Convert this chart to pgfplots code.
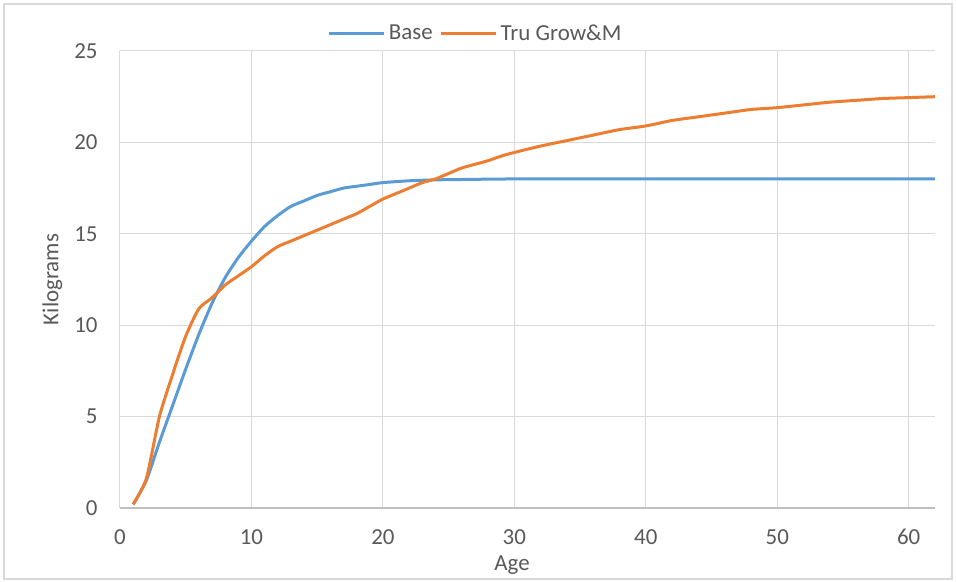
\documentclass[border=0pt]{standalone}
\usepackage{pgfplots}
\pgfplotsset{compat=1.18}
\usepackage{fontspec}
\setmainfont{Carlito}
\definecolor{xlblue}{HTML}{5B9BD5}
\definecolor{xlorange}{HTML}{ED7D31}
\definecolor{txt}{HTML}{595959}
\definecolor{gridc}{HTML}{D9D9D9}
\definecolor{axc}{HTML}{BFBFBF}
\begin{document}
\begin{tikzpicture}
\path[use as bounding box] (0bp,0bp) rectangle (956bp,582bp);
\draw[gridc, line width=1.2bp] (4bp,3bp) rectangle (952bp,578bp);
\begin{axis}[
  at={(120bp,74bp)}, anchor=south west,
  width=815bp, height=457bp, scale only axis,
  xmin=0, xmax=62, ymin=0, ymax=25,
  xtick={0,10,...,60}, ytick={0,5,...,25},
  grid=major, major grid style={gridc, line width=1bp},
  axis x line*=bottom, axis y line*=left,
  x axis line style={axc, line width=1.2bp, -},
  y axis line style={gridc, line width=1bp, -},
  major tick length=0pt, tick style={draw=none},
  /pgf/number format/assume math mode=true,
  tick label style={font=\fontsize{23}{27}\selectfont, text=txt},
  xticklabel style={yshift=-18bp},
  yticklabel style={xshift=-19bp},
  xlabel={Age}, ylabel={Kilograms},
  label style={font=\fontsize{23}{27}\selectfont, text=txt},
  xlabel style={at={(axis description cs:0.481,-0.125)}, anchor=center},
  ylabel style={at={(axis description cs:-0.083,0.50)}, anchor=center, rotate=0},
  legend columns=2,
  legend style={at={(axis description cs:0.437,1.039)}, anchor=center, draw=none, fill=none,
    font=\fontsize{23}{27}\selectfont, text=txt,
    /tikz/every odd column/.append style={column sep=0bp},
    /tikz/every even column/.append style={column sep=4bp},
    nodes={inner xsep=3bp}},
  legend image code/.code={\draw[#1] (0bp,0bp) -- (55bp,0bp);},
]
\addplot[xlblue, line width=3bp, smooth, tension=0.4] coordinates {
(1,0.2)(2,1.5)(3,3.6)(4,5.6)(5,7.6)(6,9.5)(7,11.2)(8,12.6)(9,13.7)(10,14.6)
(11,15.4)(12,16.0)(13,16.5)(14,16.8)(15,17.1)(16,17.3)(17,17.5)(18,17.6)(19,17.7)(20,17.8)
(22,17.9)(24,17.95)(26,17.97)(30,18.0)(40,18.0)(50,18.0)(62,18.0)};
\addlegendentry{Base}
\addplot[xlorange, line width=3bp, smooth, tension=0.4] coordinates {
(1,0.2)(2,1.6)(3,5.0)(4,7.3)(5,9.4)(6,10.9)(7,11.5)(8,12.2)(9,12.7)(10,13.2)
(11,13.8)(12,14.3)(13,14.6)(14,14.9)(15,15.2)(16,15.5)(17,15.8)(18,16.1)(19,16.5)(20,16.9)
(21,17.2)(22,17.5)(23,17.8)(24,18.0)(25,18.3)(26,18.6)(27,18.8)(28,19.0)(29,19.25)(30,19.45)
(32,19.8)(34,20.1)(36,20.4)(38,20.7)(40,20.9)(42,21.2)(44,21.4)(46,21.6)(48,21.8)(50,21.9)
(52,22.05)(54,22.2)(56,22.3)(58,22.4)(60,22.45)(62,22.5)};
\addlegendentry{Tru Grow\&M}
\end{axis}
\end{tikzpicture}
\end{document}
